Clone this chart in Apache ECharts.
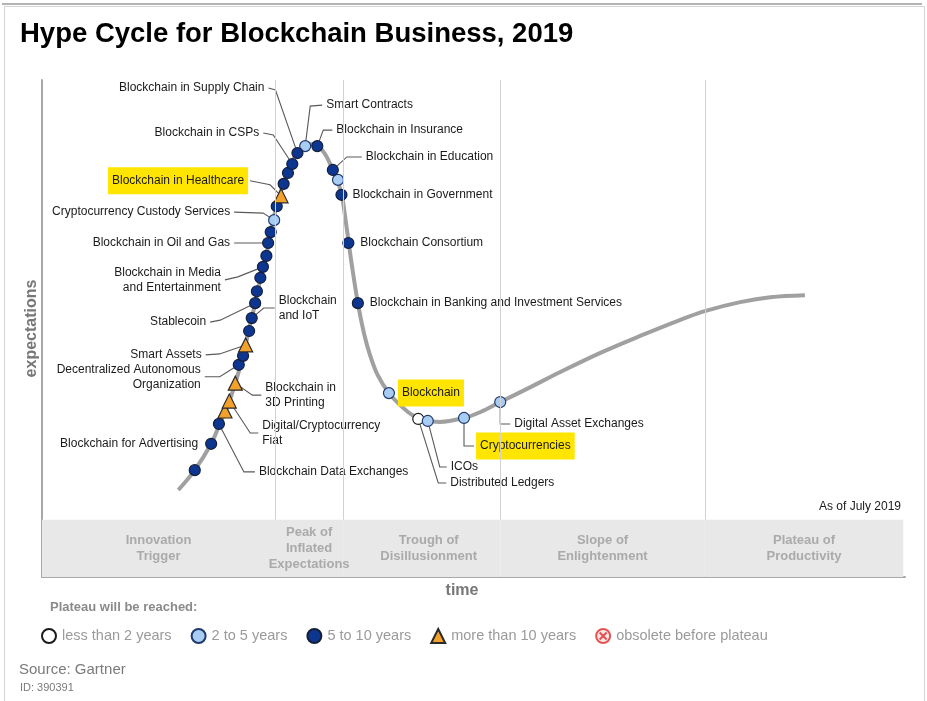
<!DOCTYPE html>
<html><head><meta charset="utf-8">
<script src="https://cdn.jsdelivr.net/npm/echarts/dist/echarts.min.js"></script>
<style>html,body{margin:0;padding:0;background:#fff}#c{width:927px;height:701px}</style>
</head><body><div id="c"></div>
<script>
// ---- data (x = time, y = expectations, 0..100) ----
const curveX = [15.8,17.7,19.6,20.6,21.6,22.4,23.3,24.1,24.8,25.4,26.0,26.4,27.0,27.6,28.2,28.9,29.6,30.5,31.3,32.0,32.8,33.6,34.3,34.8,35.1,35.5,35.9,36.6,37.3,38.0,38.9,40.2,41.5,42.9,44.3,46.1,48.9,50.8,53.1,56.6,60.0,64.7,69.3,73.9,76.8,80.9,84.4,88.4];
const curveY = [17.5,21.5,26.8,30.8,34.8,39.0,44.5,50.7,55.7,60.8,64.8,68.8,73.4,77.1,80.3,83.3,85.3,86.7,87.1,86.7,85.1,82.3,79.5,76.3,72.8,67.8,62.8,55.1,49.1,44.7,40.6,37.0,34.6,32.6,31.6,31.2,32.0,33.2,35.2,38.2,41.2,45.1,48.5,51.7,53.5,55.3,56.3,56.7];

const techNames = [
  '', 'Blockchain for Advertising', 'Blockchain Data Exchanges', '', 'Digital/Cryptocurrency\nFiat',
  'Blockchain in\n3D Printing', 'Decentralized Autonomous\nOrganization', '', 'Smart Assets', '',
  'Blockchain\nand IoT', 'Stablecoin', '', '', 'Blockchain in Media\nand Entertainment',
  '', 'Blockchain in Oil and Gas', '', 'Cryptocurrency Custody Services', '',
  'Blockchain in Healthcare', '', '', 'Blockchain in CSPs', 'Blockchain in Supply Chain',
  'Smart Contracts', 'Blockchain in Insurance', 'Blockchain in Education', '', 'Blockchain in Government',
  'Blockchain Consortium', 'Blockchain in Banking and Investment Services', 'Blockchain', 'Distributed Ledgers', 'ICOs',
  'Cryptocurrencies', 'Digital Asset Exchanges'
];
const techX = [17.7,19.6,20.5,21.2,21.7, 22.4,22.8,23.3,23.6,24.0, 24.3,24.7,24.9,25.3,25.6, 26.0,26.2,26.5,26.9,27.2, 27.7,28.0,28.5,29.0,29.6, 30.5,31.9,33.7,34.3,34.7, 35.5,36.6,40.2,43.6,44.7, 48.9,53.1];
const techY = [21.5,26.8,30.8,33.4,35.4, 39.0,42.7,44.5,46.7,49.5, 52.1,55.1,57.5,60.2,62.4, 64.6,67.2,69.4,71.8,74.6, 76.7,79.1,81.3,83.1,85.3, 86.7,86.7,81.9,79.9,76.9, 67.2,55.1,37.0,31.8,31.4, 32.0,35.2];
// 0 = less than 2 years, 1 = 2 to 5 years, 2 = 5 to 10 years, 3 = more than 10 years
const techCategory = [2,2,2,3,3, 3,2,2,3,2, 2,2,2,2,2, 2,2,2,1,2, 3,2,2,2,2, 1,2,2,1,2, 2,2,1,0,1, 1,1];
const categoryNames = ['less than 2 years', '2 to 5 years', '5 to 10 years', 'more than 10 years', 'obsolete before plateau'];
const highlighted = ['Blockchain in Healthcare', 'Blockchain', 'Cryptocurrencies'];
const phaseNames = ['Innovation\nTrigger', 'Peak of\nInflated\nExpectations', 'Trough of\nDisillusionment', 'Slope of\nEnlightenment', 'Plateau of\nProductivity'];
const phaseBounds = [0, 27.0, 34.9, 53.1, 76.8, 99.8];

// ---- label layout (pixel offsets from the marker: side, elbow dx, dy, anchor dx, dy) ----
const labelLayout = {
  1: ['l', -9, 0, -9, 0],
  2: ['r', 25, 48, 36, 48],
  4: ['r', 21, 32, 29, 32],
  5: ['r', 17, 12, 26, 12],
  6: ['l', -19, 12, -34, 12],
  8: ['l', -26, 9, -40, 10],
  10: ['r', 12, -10, 23, -10],
  11: ['l', -35, 17, -45, 19],
  14: ['l', -25, 10, -38, 13],
  16: ['l', -34, 0, -34, 0],
  18: ['l', -11, -7, -40, -8],
  20: ['l', -11, -11, -31, -15],
  23: ['l', -19, -29, -29, -31],
  24: ['l', -22, -63, -29, -65],
  25: ['r', 5, -40, 17, -41],
  26: ['r', 6, -16, 15, -16],
  27: ['r', 14, -13, 29, -13],
  29: ['r', 7, 0, 7, 0],
  30: ['r', 8, 0, 8, 0],
  31: ['r', 8, 0, 8, 0],
  32: ['r', 7, 0, 7, 0],
  33: ['r', 20, 64, 28, 64],
  34: ['r', 12, 46, 19, 46],
  35: ['r', 0, 28, 10, 28],
  36: ['r', 0, 22, 10, 22]
};

const FONT = '"Liberation Sans", Arial, Helvetica, sans-serif';
const catStyle = [
  {symbol: 'circle', size: 11, color: '#ffffff', border: '#1a1a1a'},
  {symbol: 'circle', size: 11, color: '#a9cdf2', border: '#1f3a6e'},
  {symbol: 'circle', size: 11, color: '#0d3690', border: '#151f3a'},
  {symbol: 'triangle', size: 14, color: '#f3a12b', border: '#2a2a2a'}
];
const BAND_TOP = 11.5;

const chart = echarts.init(document.getElementById('c'), null, {renderer: 'canvas'});

const scatterSeries = catStyle.map((st, c) => ({
  type: 'scatter',
  name: categoryNames[c],
  symbol: st.symbol,
  symbolSize: st.size,
  z: 4,
  itemStyle: {color: st.color, borderColor: st.border, borderWidth: 1.2, opacity: 1},
  data: techX.map((x, i) => techCategory[i] === c ? [x, techY[i]] : null).filter(Boolean),
  silent: true
}));

const labelData = techNames.map((n, i) => n ? [techX[i], techY[i], i] : null).filter(Boolean);

const option = {
  animation: false,
  backgroundColor: '#fff',
  textStyle: {fontFamily: FONT},
  title: {
    text: 'Hype Cycle for Blockchain Business, 2019',
    left: 15, top: 15,
    textStyle: {fontSize: 27.5, fontWeight: 'bold', color: '#000', fontFamily: FONT}
  },
  grid: {left: 42, right: 22, top: 80, bottom: 124, containLabel: false, outerBoundsMode: 'none'},
  xAxis: {
    type: 'value', min: 0, max: 100,
    axisLine: {show: true, lineStyle: {color: '#a8a8a8', width: 2}},
    axisTick: {show: false}, axisLabel: {show: false}, splitLine: {show: false},
    name: 'time', nameLocation: 'middle', nameGap: 6,
    nameTextStyle: {color: '#777', fontSize: 16, fontWeight: 'bold', fontFamily: FONT, padding: [0, 23, 0, 0]}
  },
  yAxis: {
    type: 'value', min: 0, max: 100,
    axisLine: {show: true, lineStyle: {color: '#a8a8a8', width: 2}},
    axisTick: {show: false}, axisLabel: {show: false}, splitLine: {show: false},
    name: 'expectations', nameLocation: 'middle', nameGap: 2, nameRotate: 90,
    nameTextStyle: {color: '#777', fontSize: 16, fontWeight: 'bold', fontFamily: FONT}
  },
  legend: {
    left: 36, top: 623,
    itemWidth: 14, itemHeight: 14, itemGap: 19,
    selectedMode: false,
    textStyle: {color: '#9a9a9a', fontSize: 14.5, fontFamily: FONT, padding: [0, 0, 0, 1]},
    data: categoryNames
  },
  series: [
    {
      type: 'line',
      name: 'curve',
      data: curveX.map((x, i) => [x, curveY[i]]),
      smooth: 0.35,
      symbol: 'none',
      z: 2,
      silent: true,
      lineStyle: {color: '#a0a0a0', width: 4},
      markArea: {
        silent: true,
        itemStyle: {color: '#e8e8e8'},
        label: {show: true, position: 'inside', color: '#aaaaaa', fontSize: 13, fontWeight: 'bold', lineHeight: 16, fontFamily: FONT},
        data: phaseNames.map((p, k) => [
          {xAxis: phaseBounds[k], yAxis: 0, name: p, label: k === 2 ? {offset: [7, 0]} : {}},
          {xAxis: phaseBounds[k + 1], yAxis: BAND_TOP}
        ])
      },
      markLine: {
        silent: true,
        symbol: ['none', 'none'],
        label: {show: false},
        lineStyle: {color: '#d2d2d2', width: 1, type: 'solid'},
        data: phaseBounds.slice(1, 5).map(b => [{coord: [b, BAND_TOP]}, {coord: [b, 100]}])
      }
    },
    {
      type: 'custom',
      name: 'labels',
      z: 3,
      silent: true,
      data: labelData,
      renderItem: function (params, api) {
        const i = api.value(2);
        const p = api.coord([api.value(0), api.value(1)]);
        const L = labelLayout[i] || ['r', 8, 0, 8, 0];
        const e = [p[0] + L[1], p[1] + L[2]];
        const a = [p[0] + L[3], p[1] + L[4]];
        const right = L[0] === 'r';
        const hl = highlighted.indexOf(techNames[i]) >= 0;
        const children = [];
        if (Math.hypot(L[3], L[4]) > 12) {
          children.push({type: 'polyline', shape: {points: [p, e, a]}, style: {stroke: '#5a5a5a', lineWidth: 1.1, fill: null}});
        }
        const gap = hl ? 2 : 4;
        children.push({
          type: 'text',
          x: a[0] + (right ? gap : -gap), y: a[1],
          style: {
            text: techNames[i],
            align: right ? 'left' : 'right',
            verticalAlign: 'middle',
            fill: '#1a1a1a',
            fontSize: 12, fontFamily: FONT, lineHeight: 15,
            backgroundColor: hl ? '#ffe500' : null,
            padding: hl ? [6, 4] : 0
          }
        });
        return {type: 'group', children: children};
      }
    }
  ].concat(scatterSeries).concat([{
    type: 'scatter',
    name: 'obsolete before plateau',
    symbol: 'path://M0,10 A10,10 0 1,1 20,10 A10,10 0 1,1 0,10 Z M5,5 L15,15 M15,5 L5,15',
    symbolSize: 12,
    itemStyle: {color: '#fbe4e4', borderColor: '#e02b2b', borderWidth: 1.6},
    data: []
  }]),
  graphic: [
    {type: 'rect', left: 2, top: 4, shape: {width: 920, height: 695}, style: {fill: null, stroke: '#d4d4d4', lineWidth: 1}, silent: true},
    {type: 'rect', left: 2, top: 3, shape: {width: 920, height: 2}, style: {fill: '#b4b4b4'}, silent: true},
    {type: 'text', right: 26, top: 501, style: {text: 'As of July 2019', fill: '#1a1a1a', fontSize: 12, fontFamily: FONT}},
    {type: 'text', left: 50, top: 601, style: {text: 'Plateau will be reached:', fill: '#8a8a8a', fontSize: 13, fontWeight: 'bold', fontFamily: FONT}},
    {type: 'text', left: 19, top: 662, style: {text: 'Source: Gartner', fill: '#7a7a7a', fontSize: 15, fontFamily: FONT}},
    {type: 'text', left: 20, top: 682, style: {text: 'ID: 390391', fill: '#7a7a7a', fontSize: 11, fontFamily: FONT}}
  ]
};
chart.setOption(option);
</script>
</body></html>
